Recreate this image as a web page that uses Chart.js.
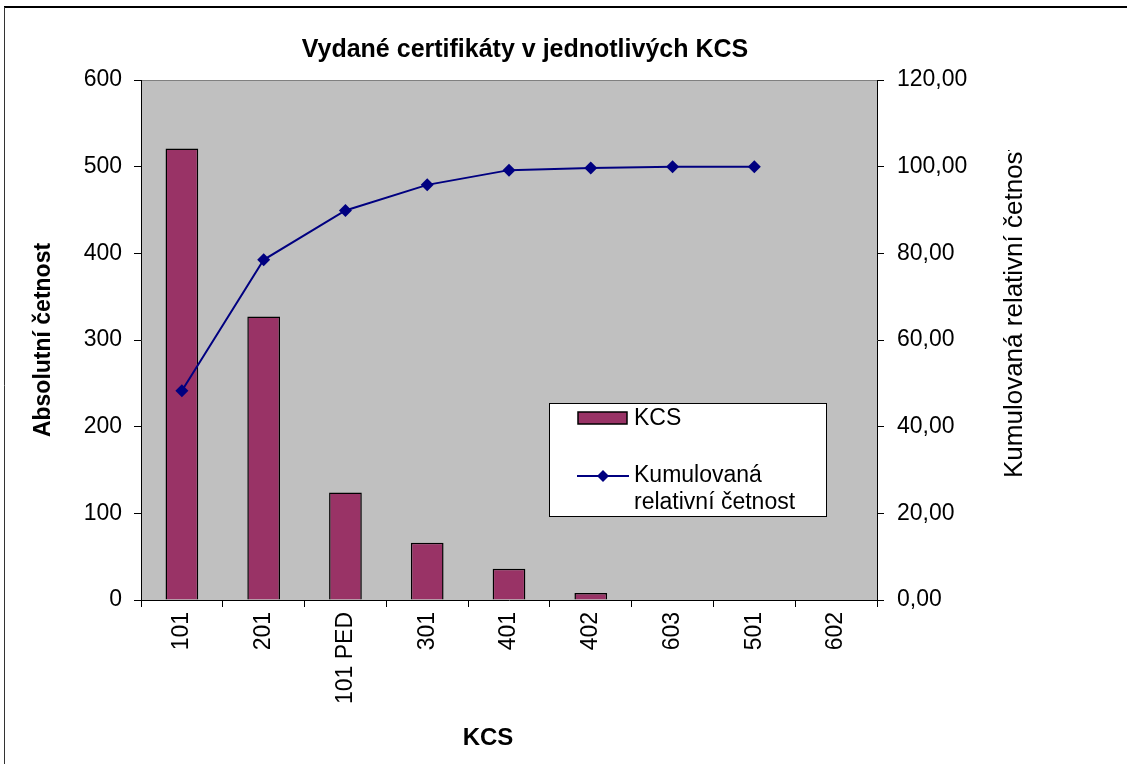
<!DOCTYPE html>
<html>
<head>
<meta charset="utf-8">
<script src="https://cdn.jsdelivr.net/npm/chart.js@4.4.1/dist/chart.umd.min.js"></script>
<style>
html,body{margin:0;padding:0;background:#fff;}
canvas{display:block;}
</style>
</head>
<body>
<canvas id="c" width="1127" height="764"></canvas>
<script>
const categories = ['101', '201', '101 PED', '301', '401', '402', '603', '501', '602'];
const absoluteCounts = [521, 327, 124, 66, 36, 8, 0, 0, 0];
const cumulativeRelative = [48.3, 78.5, 89.9, 95.8, 99.2, 99.7, 100.0, 100.0, null];
const leftTicks = [0, 100, 200, 300, 400, 500, 600];
const rightTicks = [0, 20, 40, 60, 80, 100, 120];

const chartTitle = 'Vydané certifikáty v jednotlivých KCS';
const xTitle = 'KCS';
const leftTitle = 'Absolutní četnost';
const rightTitle = 'Kumulovaná relativní četnost';

const FONT = 'Liberation Sans, Arial, sans-serif';

const bgPlugin = {
  id: 'bg',
  beforeDraw(chart) {
    const {ctx, chartArea: a} = chart;
    ctx.save();
    ctx.fillStyle = '#fff';
    ctx.fillRect(0, 0, chart.width, chart.height);
    ctx.fillStyle = '#C0C0C0';
    ctx.fillRect(a.left, a.top, a.right - a.left, a.bottom - a.top);
    ctx.strokeStyle = '#808080';
    ctx.lineWidth = 1;
    ctx.beginPath();
    ctx.moveTo(a.left, a.top + 0.5);
    ctx.lineTo(a.right, a.top + 0.5);
    ctx.stroke();
    // outer frame
    ctx.strokeStyle = '#000';
    ctx.lineWidth = 2;
    ctx.beginPath();
    ctx.moveTo(4, 7);
    ctx.lineTo(chart.width, 7);
    ctx.stroke();
    ctx.lineWidth = 1;
    ctx.strokeStyle = '#333';
    ctx.beginPath();
    ctx.moveTo(4.5, 7);
    ctx.lineTo(4.5, chart.height);
    ctx.stroke();
    ctx.restore();
  }
};

const textPlugin = {
  id: 'texts',
  afterDraw(chart) {
    const {ctx} = chart;
    ctx.save();
    ctx.fillStyle = '#000';
    ctx.textBaseline = 'middle';
    // chart title
    ctx.textAlign = 'center';
    ctx.font = 'bold 25px ' + FONT;
    ctx.fillText(chartTitle, 525, 50);
    // x axis title
    ctx.font = 'bold 24px ' + FONT;
    ctx.fillText(xTitle, 488, 738);
    // right axis title (reads bottom to top, clipped at top)
    ctx.save();
    ctx.beginPath();
    ctx.rect(990, 150, 60, 400);
    ctx.clip();
    ctx.translate(1015, 478);
    ctx.rotate(-Math.PI / 2);
    ctx.textAlign = 'left';
    ctx.font = '26px ' + FONT;
    ctx.fillText(rightTitle, 0, 0);
    ctx.restore();
    ctx.restore();
  }
};

const legendPlugin = {
  id: 'boxLegend',
  afterDraw(chart) {
    const {ctx} = chart;
    const ds = chart.data.datasets;
    const x0 = 549, y0 = 403, w = 277, h = 113;
    ctx.save();
    ctx.fillStyle = '#fff';
    ctx.fillRect(x0, y0, w, h);
    ctx.strokeStyle = '#000';
    ctx.lineWidth = 1;
    ctx.strokeRect(x0 + 0.5, y0 + 0.5, w, h);
    // bar item
    ctx.fillStyle = ds[0].backgroundColor;
    ctx.fillRect(578, 412, 49, 12);
    ctx.strokeStyle = '#000';
    ctx.lineWidth = 1.5;
    ctx.strokeRect(578, 412, 49, 12);
    ctx.fillStyle = '#000';
    ctx.font = '23px ' + FONT;
    ctx.textBaseline = 'middle';
    ctx.textAlign = 'left';
    ctx.fillText(ds[0].label, 634, 419);
    // line item
    ctx.strokeStyle = ds[1].borderColor;
    ctx.lineWidth = 2;
    ctx.beginPath();
    ctx.moveTo(577, 476);
    ctx.lineTo(629, 476);
    ctx.stroke();
    ctx.fillStyle = ds[1].borderColor;
    ctx.beginPath();
    ctx.moveTo(603, 470);
    ctx.lineTo(609, 476);
    ctx.lineTo(603, 482);
    ctx.lineTo(597, 476);
    ctx.closePath();
    ctx.fill();
    ctx.fillStyle = '#000';
    const parts = ds[1].legendLines;
    ctx.fillText(parts[0], 634, 476);
    ctx.fillText(parts[1], 634, 503);
    ctx.restore();
  }
};

new Chart(document.getElementById('c'), {
  data: {
    labels: categories,
    datasets: [
      {
        type: 'bar',
        label: 'KCS',
        data: absoluteCounts,
        backgroundColor: '#993366',
        borderColor: '#000',
        borderWidth: 1.5,
        borderSkipped: 'bottom',
        barPercentage: 0.4,
        categoryPercentage: 1.0,
        yAxisID: 'y',
        order: 2
      },
      {
        type: 'line',
        label: 'Kumulovaná relativní četnost',
        legendLines: ['Kumulovaná', 'relativní četnost'],
        data: cumulativeRelative,
        borderColor: '#000080',
        backgroundColor: '#000080',
        borderWidth: 2,
        pointStyle: 'rectRot',
        pointRadius: 6.5,
        pointHoverRadius: 6.5,
        pointBorderWidth: 0,
        tension: 0,
        spanGaps: false,
        yAxisID: 'y1',
        order: 1
      }
    ]
  },
  options: {
    responsive: false,
    animation: false,
    events: [],
    layout: {padding: {left: 0, right: 0, top: 80, bottom: 0}},
    plugins: {
      legend: {display: false},
      tooltip: {enabled: false},
      title: {display: false}
    },
    scales: {
      x: {
        type: 'category',
        offset: true,
        afterFit(s) { s.height = 164; },
        grid: {display: true, drawOnChartArea: false, drawTicks: true, tickLength: 7, color: '#000', offset: true},
        border: {display: true, color: '#000', width: 1},
        ticks: {color: '#000', font: {family: FONT, size: 23}, maxRotation: 90, minRotation: 90, padding: 5, autoSkip: false},
        title: {display: false}
      },
      y: {
        type: 'linear',
        position: 'left',
        min: 0,
        max: 600,
        afterFit(s) { s.width = 141; },
        afterBuildTicks(s) { s.ticks = leftTicks.map(v => ({value: v})); },
        grid: {display: true, drawOnChartArea: false, drawTicks: true, tickLength: 7, color: '#000'},
        border: {display: true, color: '#000', width: 1},
        ticks: {color: '#000', font: {family: FONT, size: 23}, padding: 12},
        title: {display: true, text: leftTitle, color: '#000', font: {family: FONT, size: 23, weight: 'bold'}, padding: {top: 30, bottom: 0}}
      },
      y1: {
        type: 'linear',
        position: 'right',
        min: 0,
        max: 120,
        afterFit(s) { s.width = 250; },
        afterBuildTicks(s) { s.ticks = rightTicks.map(v => ({value: v})); },
        grid: {display: true, drawOnChartArea: false, drawTicks: true, tickLength: 7, color: '#000'},
        border: {display: true, color: '#000', width: 1},
        ticks: {color: '#000', font: {family: FONT, size: 23}, padding: 13,
          callback: v => v.toFixed(2).replace('.', ',')},
        title: {display: false}
      }
    }
  },
  plugins: [bgPlugin, textPlugin, legendPlugin]
});
</script>
</body>
</html>
